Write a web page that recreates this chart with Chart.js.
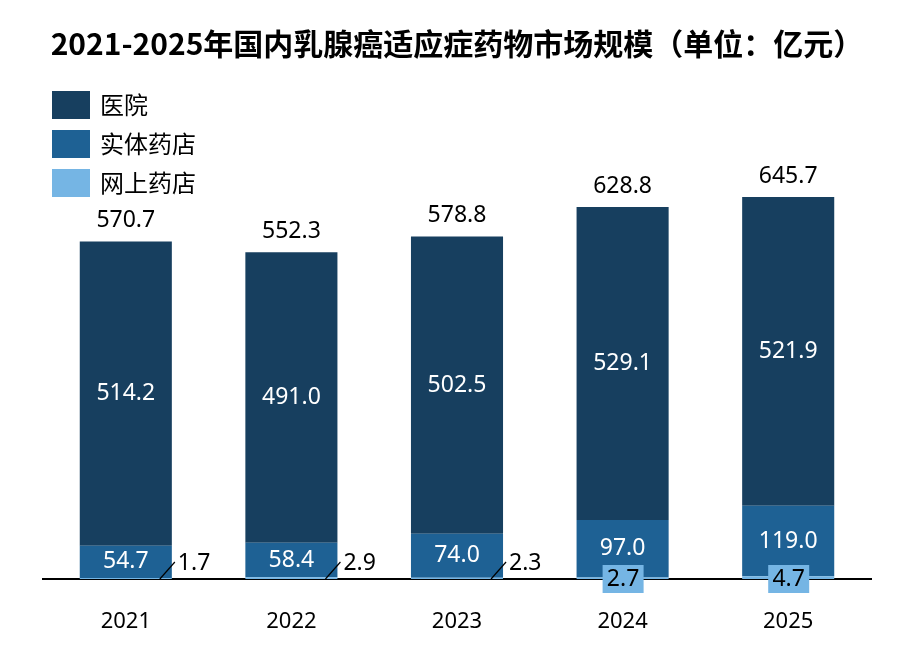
<!DOCTYPE html>
<html>
<head>
<meta charset="utf-8">
<script src="https://cdn.jsdelivr.net/npm/chart.js@4.4.0/dist/chart.umd.min.js"></script>
<style>
  body { margin: 0; background: #fff; }
</style>
</head>
<body>
<div style="width:916px;height:645px">
  <canvas id="market-chart" width="916" height="645"></canvas>
</div>
<script>
const years = ["2021", "2022", "2023", "2024", "2025"];
const hospital = [514.2, 491.0, 502.5, 529.1, 521.9];
const retail = [54.7, 58.4, 74.0, 97.0, 119.0];
const online = [1.7, 2.9, 2.3, 2.7, 4.7];
const totals = [570.7, 552.3, 578.8, 628.8, 645.7];
// 2024/2025 online values sit in a box on the axis, others get a leader line
const onlineBoxed = [false, false, false, true, true];

const DARK = "#173f5f";
const MID = "#1e6194";
const LIGHT = "#75b5e4";
const NUM_FONT = '23px "Noto Sans", sans-serif';

const labelPlugin = {
  id: "barLabels",
  afterDatasetsDraw(chart) {
    const ctx = chart.ctx;
    ctx.save();
    ctx.font = NUM_FONT;
    ctx.textAlign = "center";
    ctx.textBaseline = "middle";

    // white values inside hospital / retail segments
    [1, 2].forEach((di) => {
      const meta = chart.getDatasetMeta(di);
      meta.data.forEach((bar, i) => {
        const v = chart.data.datasets[di].data[i];
        ctx.fillStyle = "#fff";
        ctx.fillText(v.toFixed(1), bar.x, (bar.y + bar.base) / 2);
      });
    });

    // totals above the bars
    chart.getDatasetMeta(2).data.forEach((bar, i) => {
      ctx.fillStyle = "#000";
      ctx.fillText(totals[i].toFixed(1), bar.x, bar.y - 21);
    });

    // online shop values
    chart.getDatasetMeta(0).data.forEach((bar, i) => {
      const base = bar.base;
      const right = bar.x + bar.width / 2;
      const txt = online[i].toFixed(1);
      if (onlineBoxed[i]) {
        ctx.fillStyle = LIGHT;
        ctx.fillRect(bar.x - 20, base - 14, 41, 28);
        ctx.fillStyle = "#000";
        ctx.textAlign = "center";
        ctx.fillText(txt, bar.x + 0.5, base);
      } else {
        ctx.strokeStyle = "#000";
        ctx.lineWidth = 1.2;
        ctx.beginPath();
        ctx.moveTo(right - 12, base);
        ctx.lineTo(right + 3, base - 17);
        ctx.stroke();
        ctx.fillStyle = "#000";
        ctx.textAlign = "left";
        ctx.fillText(txt, right + 6, base - 16);
      }
    });
    ctx.restore();
  },
  afterDraw(chart) {
    // vertical legend in the top-left corner
    const ctx = chart.ctx;
    const items = [
      { text: "医院", color: DARK },
      { text: "实体药店", color: MID },
      { text: "网上药店", color: LIGHT },
    ];
    ctx.save();
    ctx.font = '24px "Noto Sans CJK SC", sans-serif';
    ctx.textAlign = "left";
    ctx.textBaseline = "middle";
    items.forEach((it, k) => {
      const top = 91 + k * 39;
      ctx.fillStyle = it.color;
      ctx.fillRect(52, top, 38, 28);
      ctx.fillStyle = "#000";
      ctx.fillText(it.text, 100, top + 14);
    });
    ctx.restore();
  },
};

const config = {
  type: "bar",
  data: {
    labels: years,
    datasets: [
      { label: "网上药店", data: online, backgroundColor: LIGHT },
      { label: "实体药店", data: retail, backgroundColor: MID },
      { label: "医院", data: hospital, backgroundColor: DARK },
    ],
  },
  options: {
    responsive: false,
    animation: false,
    layout: {
      padding: { left: 43, right: 45, top: 0, bottom: 14 },
    },
    datasets: {
      bar: { categoryPercentage: 1, barPercentage: 0.556 },
    },
    plugins: {
      legend: { display: false },
      tooltip: { enabled: false },
      title: {
        display: true,
        text: "2021-2025年国内乳腺癌适应症药物市场规模（单位：亿元）",
        color: "#000",
        font: { family: '"Noto Sans CJK SC", sans-serif', size: 30, weight: "bold" },
        padding: { top: 26, bottom: 0 },
      },
    },
    scales: {
      x: {
        stacked: true,
        grid: { display: false, drawTicks: false },
        border: { display: true, color: "#000", width: 2 },
        ticks: {
          color: "#000",
          padding: 30,
          font: { family: '"Noto Sans", sans-serif', size: 22 },
        },
        afterFit(scale) {
          scale.height = 52;
        },
      },
      y: {
        stacked: true,
        display: false,
        min: 0,
        max: 874,
      },
    },
  },
  plugins: [labelPlugin],
};

new Chart(document.getElementById("market-chart").getContext("2d"), config);
</script>
</body>
</html>
